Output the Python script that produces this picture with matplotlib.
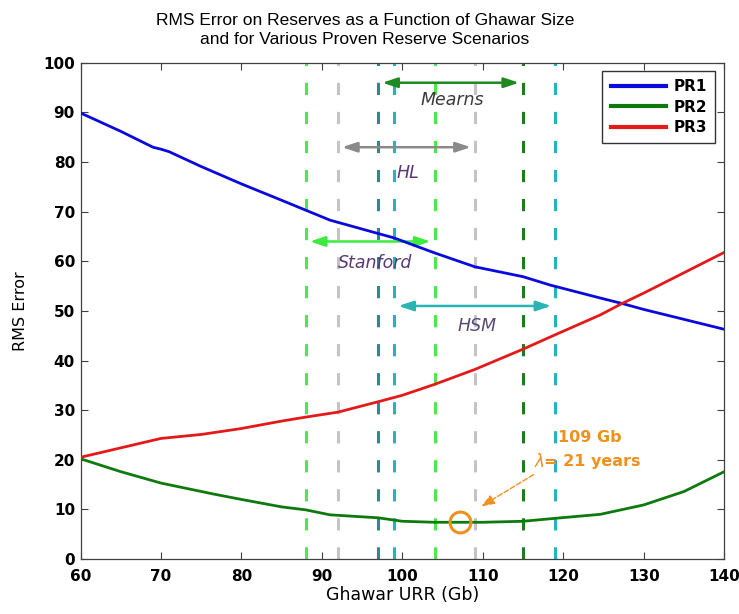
import matplotlib
matplotlib.use("Agg")
import matplotlib.pyplot as plt

plt.rcParams['font.family'] = ['DejaVu Sans']

# RMS error curves vs. Ghawar URR (Gb)
pr1_x = [60, 65, 69, 70, 71, 75, 80, 85, 91, 95, 99, 104, 109, 115, 118.4, 124.6, 127.3, 130, 135, 140]
pr1_y = [89.9, 86.2, 83.0, 82.6, 82.1, 79.1, 75.6, 72.3, 68.3, 66.5, 64.7, 61.7, 58.9, 56.9, 55.2, 52.6, 51.5, 50.3, 48.3, 46.3]

pr2_x = [60, 65, 70, 76.5, 80, 85, 88, 91, 97, 100, 104, 107, 110, 115, 119, 124.6, 130, 135, 140]
pr2_y = [20.2, 17.6, 15.3, 13.1, 12.0, 10.5, 9.9, 8.9, 8.3, 7.6, 7.4, 7.4, 7.4, 7.6, 8.2, 9.0, 10.9, 13.6, 17.6]

pr3_x = [60, 65, 70, 75, 80, 85, 88, 92, 97, 100, 104, 109, 115, 119, 124.6, 127.3, 130, 135, 140]
pr3_y = [20.5, 22.4, 24.3, 25.1, 26.3, 27.8, 28.6, 29.6, 31.7, 33.0, 35.2, 38.2, 42.3, 45.2, 49.2, 51.5, 53.6, 57.7, 61.8]

# URR ranges from the different studies
studies = ['Mearns', 'HL', 'Stanford', 'HSM']
range_lo = [97, 92, 88, 99]
range_hi = [115, 109, 104, 119]
arrow_y = [96, 83, 64, 51]
label_xy = [(106.2, 92.5), (100.7, 77.8), (96.6, 59.7), (109.3, 47.0)]

vlines = [88, 92, 97, 99, 104, 109, 115, 119]
vline_colors = ['#4ee84e', '#c4c4c4', '#2a8a8c', '#26b4bc',
                '#4ee84e', '#c4c4c4', '#1f7a22', '#26b4bc']
arrow_colors = ['#1f8a22', '#8a8a8a', '#3cec3c', '#2ab4b4']
label_colors = ['#3a3a3a', '#5a3878', '#5a3878', '#5a4878']

best_x, best_y = 107.2, 7.4
orange = '#f0901e'

fig = plt.figure(figsize=(7.39, 6.14), dpi=100)
ax = fig.add_axes([0.109, 0.0896, 0.871, 0.808])

for xv, c in zip(vlines, vline_colors):
    ax.axvline(xv, color=c, lw=2.2, linestyle=(0, (4, 5.5)), zorder=1)

for i, name in enumerate(studies):
    ax.annotate('', xy=(range_lo[i] + 0.5, arrow_y[i]), xytext=(range_hi[i] - 0.5, arrow_y[i]),
                arrowprops=dict(arrowstyle='<|-|>,head_length=0.9,head_width=0.3',
                                color=arrow_colors[i], lw=1.8, shrinkA=0, shrinkB=0),
                zorder=3)
    ax.text(label_xy[i][0], label_xy[i][1], name, fontsize=12.5, style='italic',
            color=label_colors[i], ha='center', va='center', zorder=4)

ax.plot(pr1_x, pr1_y, color='#0a0adc', lw=2.0, label='PR1', zorder=5)
ax.plot(pr2_x, pr2_y, color='#0e7a0e', lw=2.0, label='PR2', zorder=5)
ax.plot(pr3_x, pr3_y, color='#e41a1a', lw=2.0, label='PR3', zorder=5)

ax.plot([best_x], [best_y], 'o', ms=15, mfc='none', mec=orange, mew=2.2, zorder=6)
ax.annotate('', xy=(109.8, 10.6), xytext=(116.3, 17.0),
            arrowprops=dict(arrowstyle='-|>,head_length=0.8,head_width=0.3', color=orange,
                            lw=1.0, linestyle='--', shrinkA=0, shrinkB=0), zorder=6)
ax.text(123.3, 24.4, '109 Gb', color=orange, fontsize=11.5, fontweight='bold',
        ha='center', va='center', zorder=6)
ax.text(117.0, 19.6, r'$\lambda$', color=orange, fontsize=12, ha='center', va='center', zorder=6)
ax.text(117.6, 19.6, '= 21 years', color=orange, fontsize=11.5, fontweight='bold',
        ha='left', va='center', zorder=6)

ax.set_xlim(60, 140)
ax.set_ylim(0, 100)
ax.set_xticks(range(60, 141, 10))
ax.set_yticks(range(0, 101, 10))
ax.tick_params(direction='in', top=True, right=True, length=5, width=0.8,
               color='#404040', labelsize=11)
ax.tick_params(axis='x', pad=7)
ax.tick_params(axis='y', pad=4)
for lab in ax.get_xticklabels() + ax.get_yticklabels():
    lab.set_fontweight('bold')
for sp in ax.spines.values():
    sp.set_color('#404040')
    sp.set_linewidth(0.9)

ax.set_xlabel('Ghawar URR (Gb)', fontsize=12.5, labelpad=2)
ax.set_ylabel('RMS Error', fontsize=11.5, labelpad=11)

leg = ax.legend(loc='upper right', bbox_to_anchor=(0.986, 0.984), borderaxespad=0,
                fancybox=False, edgecolor='black', handlelength=3.6,
                prop={'weight': 'bold', 'size': 11}, labelspacing=0.35,
                borderpad=0.55, handletextpad=0.5)
leg.get_frame().set_linewidth(1.0)
for line in leg.get_lines():
    line.set_linewidth(3.0)

fig.text(0.494, 0.951, 'RMS Error on Reserves as a Function of Ghawar Size\n'
         'and for Various Proven Reserve Scenarios', family='Liberation Sans',
         ha='center', va='center', fontsize=12.5, linespacing=1.4)

fig.savefig('out.png', dpi=100)
